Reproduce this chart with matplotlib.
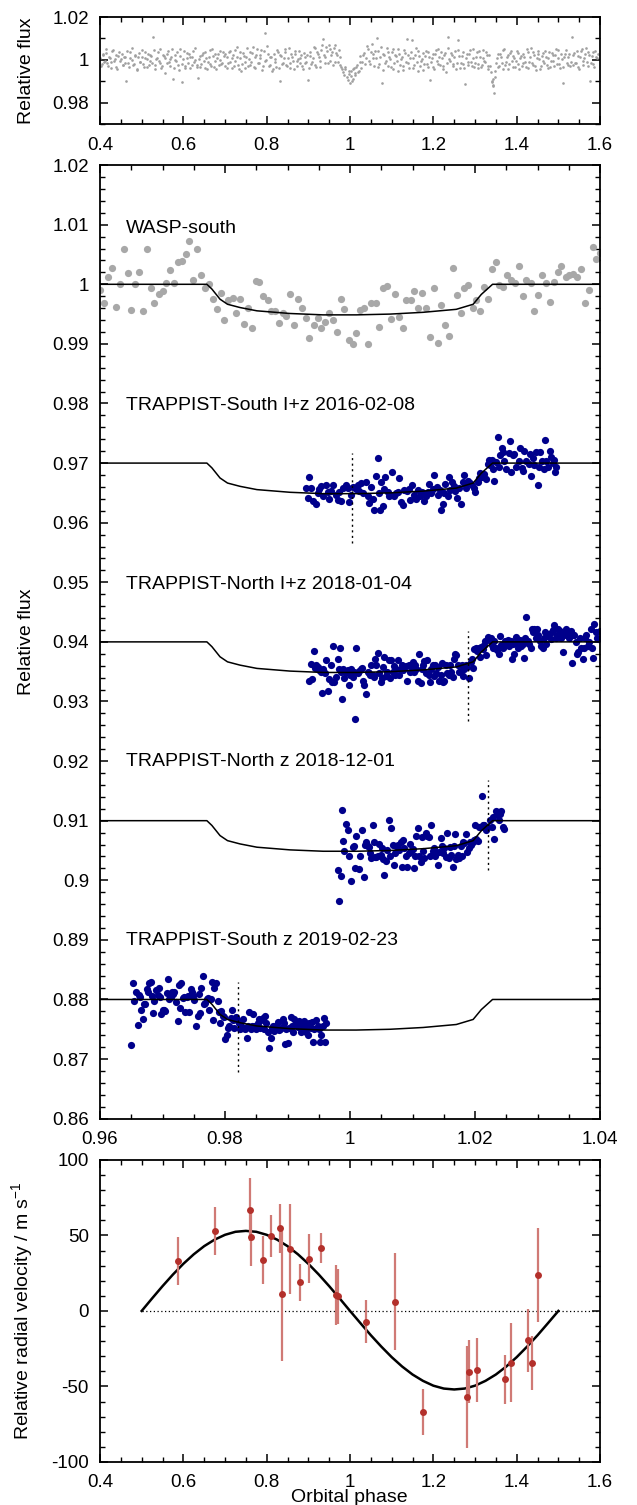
import numpy as np
import matplotlib
matplotlib.use('Agg')
import matplotlib.pyplot as plt
from matplotlib.ticker import MultipleLocator, FuncFormatter

plt.rcParams['font.family'] = ['Liberation Sans', 'DejaVu Sans']
plt.rcParams['axes.unicode_minus'] = False
plt.rcParams['mathtext.fontset'] = 'custom'
plt.rcParams['mathtext.rm'] = 'Liberation Sans'
plt.rcParams['mathtext.it'] = 'Liberation Sans:italic'

# --- top panel: full WASP light curve folded on the orbital period ---
full_phase = [
    0.401, 0.404, 0.408, 0.412, 0.415, 0.419, 0.424, 0.427, 0.431, 0.436, 0.439, 0.443, 0.448, 0.452, 0.456,
    0.460, 0.463, 0.467, 0.471, 0.476, 0.479, 0.483, 0.488, 0.491, 0.495, 0.500, 0.503, 0.507, 0.512, 0.516,
    0.519, 0.523, 0.528, 0.531, 0.535, 0.540, 0.543, 0.547, 0.552, 0.555, 0.560, 0.564, 0.567, 0.571, 0.576,
    0.579, 0.583, 0.588, 0.591, 0.596, 0.599, 0.603, 0.608, 0.612, 0.615, 0.620, 0.624, 0.627, 0.632, 0.636,
    0.639, 0.643, 0.647, 0.652, 0.655, 0.660, 0.663, 0.667, 0.672, 0.676, 0.679, 0.684, 0.687, 0.691, 0.696,
    0.699, 0.704, 0.707, 0.711, 0.716, 0.719, 0.723, 0.728, 0.731, 0.736, 0.739, 0.744, 0.748, 0.751, 0.756,
    0.759, 0.763, 0.768, 0.771, 0.775, 0.780, 0.784, 0.787, 0.791, 0.796, 0.799, 0.803, 0.808, 0.811, 0.816,
    0.819, 0.823, 0.827, 0.832, 0.835, 0.840, 0.844, 0.847, 0.852, 0.856, 0.859, 0.864, 0.867, 0.872, 0.876,
    0.879, 0.883, 0.888, 0.891, 0.895, 0.900, 0.904, 0.907, 0.912, 0.915, 0.919, 0.924, 0.927, 0.931, 0.935,
    0.939, 0.943, 0.947, 0.951, 0.955, 0.959, 0.963, 0.967, 0.971, 0.975, 0.979, 0.983, 0.987, 0.992, 0.997,
    1.000, 1.003, 1.006, 1.009, 1.013, 1.017, 1.021, 1.025, 1.029, 1.034, 1.039, 1.043, 1.048, 1.052, 1.056,
    1.060, 1.064, 1.068, 1.072, 1.076, 1.080, 1.084, 1.088, 1.092, 1.096, 1.100, 1.104, 1.108, 1.112, 1.116,
    1.120, 1.124, 1.128, 1.132, 1.136, 1.140, 1.144, 1.148, 1.152, 1.156, 1.160, 1.164, 1.168, 1.172, 1.176,
    1.180, 1.184, 1.188, 1.192, 1.196, 1.200, 1.204, 1.208, 1.212, 1.216, 1.220, 1.224, 1.228, 1.232, 1.236,
    1.240, 1.244, 1.248, 1.252, 1.256, 1.260, 1.264, 1.268, 1.272, 1.276, 1.280, 1.284, 1.288, 1.292, 1.296,
    1.300, 1.304, 1.308, 1.312, 1.316, 1.320, 1.324, 1.328, 1.332, 1.336, 1.340, 1.343, 1.345, 1.348, 1.352,
    1.356, 1.360, 1.364, 1.368, 1.372, 1.376, 1.380, 1.384, 1.388, 1.392, 1.396, 1.400, 1.404, 1.408, 1.412,
    1.416, 1.420, 1.424, 1.428, 1.432, 1.436, 1.440, 1.444, 1.448, 1.452, 1.456, 1.460, 1.464, 1.468, 1.472,
    1.476, 1.480, 1.484, 1.488, 1.492, 1.496, 1.500, 1.504, 1.508, 1.512, 1.516, 1.520, 1.524, 1.528, 1.532,
    1.536, 1.540, 1.544, 1.548, 1.552, 1.556, 1.560, 1.564, 1.568, 1.572, 1.576, 1.580, 1.584, 1.588, 1.592,
    0.402, 0.406, 0.410, 0.414, 0.417, 0.422, 0.426, 0.429, 0.433, 0.438, 0.441, 0.446, 0.450, 0.454, 0.458,
    0.461, 0.465, 0.469, 0.473, 0.477, 0.481, 0.485, 0.489, 0.493, 0.497, 0.501, 0.505, 0.509, 0.513, 0.517,
    0.521, 0.525, 0.529, 0.533, 0.537, 0.541, 0.545, 0.549, 0.553, 0.557, 0.561, 0.565, 0.569, 0.573, 0.577,
    0.581, 0.585, 0.589, 0.593, 0.597, 0.601, 0.605, 0.609, 0.613, 0.617, 0.621, 0.625, 0.629, 0.633, 0.637,
    0.641, 0.645, 0.649, 0.653, 0.657, 0.661, 0.665, 0.669, 0.673, 0.677, 0.681, 0.685, 0.689, 0.693, 0.697,
    0.701, 0.705, 0.709, 0.713, 0.717, 0.721, 0.725, 0.729, 0.733, 0.737, 0.741, 0.745, 0.749, 0.753, 0.757,
    0.761, 0.765, 0.769, 0.773, 0.777, 0.781, 0.785, 0.789, 0.793, 0.797, 0.801, 0.805, 0.809, 0.813, 0.817,
    0.821, 0.825, 0.829, 0.833, 0.837, 0.841, 0.845, 0.849, 0.853, 0.857, 0.861, 0.865, 0.869, 0.873, 0.877,
    0.881, 0.885, 0.889, 0.893, 0.897, 0.901, 0.905, 0.909, 0.913, 0.917, 0.921, 0.925, 0.929, 0.933, 0.937,
    0.941, 0.945, 0.949, 0.953, 0.957, 0.961, 0.965, 0.969, 0.973, 0.977, 0.981, 0.985, 0.989, 0.994, 0.998,
    1.002, 1.005, 1.008, 1.011, 1.015, 1.019, 1.023, 1.027, 1.031, 1.036, 1.041, 1.045, 1.050, 1.054, 1.058,
    1.062, 1.066, 1.070, 1.074, 1.078, 1.082, 1.086, 1.090, 1.094, 1.098, 1.102, 1.106, 1.110, 1.114, 1.118,
    1.122, 1.126, 1.130, 1.134, 1.138, 1.142, 1.146, 1.150, 1.154, 1.158, 1.162, 1.166, 1.170, 1.174, 1.178,
    1.182, 1.186, 1.190, 1.194, 1.198, 1.202, 1.206, 1.210, 1.214, 1.218, 1.222, 1.226, 1.230, 1.234, 1.238,
    1.242, 1.246, 1.250, 1.254, 1.258, 1.262, 1.266, 1.270, 1.274, 1.278, 1.282, 1.286, 1.290, 1.294, 1.298,
    1.302, 1.306, 1.310, 1.314, 1.318, 1.322, 1.326, 1.330, 1.334, 1.338, 1.341, 1.342, 1.344, 1.347, 1.350,
    1.354, 1.358, 1.362, 1.366, 1.370, 1.374, 1.378, 1.382, 1.386, 1.390, 1.394, 1.398, 1.402, 1.406, 1.410,
    1.414, 1.418, 1.422, 1.426, 1.430, 1.434, 1.438, 1.442, 1.446, 1.450, 1.454, 1.458, 1.462, 1.466, 1.470,
    1.474, 1.478, 1.482, 1.486, 1.490, 1.494, 1.498, 1.502, 1.506, 1.510, 1.514, 1.518, 1.522, 1.526, 1.530,
    1.534, 1.538, 1.542, 1.546, 1.550, 1.554, 1.558, 1.562, 1.566, 1.570, 1.574, 1.578, 1.582, 1.586, 1.590, 1.596]
full_flux = [
    1.0008, 0.9982, 1.0021, 0.9995, 1.0034, 0.9972, 1.0011, 0.9989, 1.0046, 1.0003, 0.9967, 1.0018, 0.9993, 1.0027, 0.9979,
    1.0012, 0.9904, 0.9986, 1.0039, 1.0001, 0.9975, 1.0024, 0.9958, 1.0015, 0.9992, 1.0048, 0.9981, 1.0007, 0.9968, 1.0030,
    0.9996, 1.0019, 1.0109, 0.9978, 1.0005, 1.0036, 0.9987, 0.9962, 1.0022, 1.0009, 0.9984, 1.0041, 0.9971, 1.0014, 0.9910,
    1.0025, 0.9993, 0.9979, 1.0051, 0.9897, 1.0006, 0.9964, 1.0031, 0.9988, 1.0013, 0.9975, 1.0042, 0.9999, 0.9968, 0.9915,
    1.0017, 0.9983, 1.0033, 0.9961, 1.0008, 0.9990, 1.0045, 0.9974, 1.0020, 0.9996, 0.9958, 1.0028, 1.0002, 0.9981, 1.0037,
    0.9970, 1.0012, 0.9986, 1.0044, 0.9965, 1.0023, 0.9995, 1.0062, 0.9979, 1.0008, 0.9950, 1.0031, 0.9989, 1.0016, 0.9974,
    1.0038, 0.9992, 1.0059, 0.9963, 1.0021, 0.9984, 1.0009, 1.0046, 0.9971, 1.0124, 0.9998, 1.0027, 0.9976, 1.0013, 0.9957,
    1.0004, 0.9968, 1.0035, 0.9900, 1.0018, 0.9987, 1.0052, 0.9979, 1.0010, 0.9962, 1.0029, 0.9994, 1.0041, 0.9973, 1.0006,
    0.9985, 1.0022, 0.9958, 1.0015, 0.9992, 0.9905, 1.0039, 0.9980, 1.0011, 1.0055, 0.9969, 1.0028, 0.9997, 1.0047, 1.0098,
    1.0016, 1.0061, 0.9988, 1.0053, 1.0024, 0.9976, 1.0068, 1.0031, 0.9992, 1.0012, 0.9966, 0.9944, 0.9958, 0.9921, 0.9936,
    0.9892, 0.9948, 0.9913, 0.9962, 0.9930, 0.9975, 0.9951, 1.0018, 0.9989, 1.0034, 1.0007, 1.0052, 0.9982, 1.0075, 1.0026,
    1.0041, 1.0102, 0.9968, 1.0013, 0.9894, 1.0029, 0.9985, 1.0058, 0.9971, 1.0004, 1.0037, 0.9960, 1.0021, 0.9993, 1.0049,
    0.9977, 1.0016, 0.9952, 1.0032, 1.0097, 0.9986, 1.0009, 1.0094, 0.9964, 1.0025, 0.9991, 1.0043, 0.9973, 1.0006, 0.9955,
    1.0019, 0.9982, 1.0038, 0.9907, 1.0011, 0.9969, 1.0027, 0.9994, 1.0050, 0.9978, 1.0008, 0.9960, 1.0033, 0.9987, 1.0108,
    0.9996, 1.0024, 0.9973, 1.0042, 0.9988, 1.0095, 0.9965, 1.0017, 0.9981, 0.9890, 1.0030, 0.9992, 1.0046, 0.9970, 1.0010,
    0.9984, 1.0035, 0.9962, 1.0014, 0.9978, 1.0048, 0.9991, 1.0022, 0.9956, 0.9974, 0.9903, 0.9885, 0.9848, 0.9921, 1.0008,
    0.9969, 1.0028, 0.9987, 1.0045, 0.9975, 1.0012, 0.9958, 1.0033, 0.9995, 1.0019, 0.9966, 1.0040, 0.9983, 1.0007, 0.9971,
    1.0026, 0.9990, 1.0052, 0.9962, 1.0015, 0.9985, 1.0037, 0.9973, 1.0009, 1.0029, 0.9957, 1.0018, 0.9994, 1.0044, 0.9979,
    1.0011, 0.9968, 1.0034, 0.9996, 1.0021, 0.9980, 1.0047, 0.9963, 1.0006, 0.9895, 1.0030, 0.9988, 1.0016, 0.9972, 1.0108,
    1.0023, 0.9985, 1.0041, 0.9966, 1.0013, 1.0050, 0.9977, 1.0028, 0.9992, 1.0035, 0.9903, 1.0019, 0.9981, 1.0044, 1.0009,
    0.9974, 1.0029, 0.9991, 1.0052, 0.9985, 1.0016, 0.9963, 1.0040, 0.9997, 1.0023, 0.9958, 1.0035, 1.0006, 0.9976, 1.0013,
    0.9987, 1.0044, 0.9969, 1.0010, 1.0057, 0.9980, 1.0019, 0.9952, 1.0032, 0.9990, 1.0014, 0.9966, 1.0038, 1.0003, 0.9977,
    1.0025, 0.9984, 1.0046, 0.9960, 1.0011, 0.9994, 1.0053, 0.9972, 1.0017, 0.9941, 1.0030, 0.9989, 1.0006, 1.0049, 0.9965,
    0.9998, 1.0036, 0.9955, 1.0020, 0.9983, 1.0044, 0.9970, 1.0008, 1.0027, 0.9961, 1.0015, 0.9992, 1.0058, 0.9978, 1.0004,
    0.9969, 1.0023, 0.9994, 1.0039, 0.9957, 1.0012, 0.9981, 1.0051, 0.9967, 1.0030, 1.0007, 0.9975, 1.0044, 0.9988, 1.0018,
    1.0026, 0.9961, 1.0035, 0.9990, 1.0009, 0.9972, 1.0047, 1.0015, 0.9956, 1.0038, 0.9983, 1.0020, 0.9962, 1.0055, 1.0003,
    0.9979, 1.0032, 0.9968, 1.0014, 1.0050, 0.9987, 1.0024, 0.9955, 1.0041, 0.9993, 1.0066, 0.9974, 1.0012, 0.9949, 1.0028,
    0.9990, 1.0047, 0.9963, 1.0021, 0.9982, 1.0008, 1.0036, 0.9970, 1.0054, 0.9988, 1.0016, 0.9957, 1.0030, 0.9995, 1.0043,
    1.0009, 0.9973, 1.0034, 0.9986, 1.0025, 0.9964, 1.0017, 0.9991, 1.0060, 0.9979, 1.0038, 1.0012, 0.9968, 1.0072, 1.0021,
    0.9984, 1.0042, 1.0070, 0.9995, 1.0035, 1.0058, 0.9990, 1.0022, 1.0047, 0.9975, 0.9958, 0.9932, 0.9967, 0.9905, 0.9948,
    0.9925, 0.9903, 0.9957, 0.9938, 0.9969, 0.9942, 0.9990, 0.9965, 1.0021, 0.9980, 1.0063, 0.9994, 1.0039, 1.0011, 0.9972,
    1.0008, 1.0044, 0.9982, 1.0061, 0.9955, 1.0024, 0.9993, 1.0035, 1.0013, 0.9968, 1.0050, 0.9986, 1.0019, 0.9947, 1.0030,
    1.0005, 0.9974, 1.0046, 0.9989, 1.0022, 0.9961, 1.0039, 1.0010, 0.9978, 1.0055, 0.9950, 1.0017, 0.9995, 1.0034, 0.9982,
    1.0040, 0.9967, 1.0013, 0.9992, 1.0029, 0.9956, 1.0048, 0.9983, 1.0015, 1.0036, 0.9971, 1.0022, 0.9945, 1.0057, 1.0004,
    1.0031, 0.9980, 1.0012, 0.9958, 1.0046, 1.0019, 0.9986, 1.0035, 0.9963, 1.0009, 0.9975, 1.0027, 0.9992, 1.0053, 0.9969,
    1.0016, 0.9981, 1.0043, 0.9966, 1.0008, 0.9993, 1.0037, 0.9970, 1.0021, 0.9943, 0.9896, 0.9912, 0.9878, 0.9950, 0.9985,
    1.0030, 0.9974, 1.0015, 0.9960, 1.0052, 0.9991, 1.0024, 0.9982, 1.0041, 0.9967, 1.0009, 0.9995, 1.0033, 0.9958, 1.0020,
    0.9984, 1.0013, 0.9969, 1.0036, 0.9992, 1.0058, 0.9977, 1.0025, 0.9955, 1.0040, 1.0003, 0.9972, 1.0031, 0.9988, 1.0014,
    0.9961, 1.0039, 0.9993, 1.0022, 0.9974, 1.0050, 1.0008, 0.9983, 1.0030, 0.9967, 1.0012, 1.0045, 0.9979, 1.0026, 0.9991,
    0.9976, 1.0033, 0.9987, 1.0018, 0.9960, 1.0042, 0.9994, 1.0011, 1.0057, 0.9970, 1.0024, 0.9985, 1.0036, 0.9968, 1.0015, 1.0030]

# --- middle panel: transit light curves ---
wasp_phase = [
    0.9600, 0.9606, 0.9613, 0.9619, 0.9626, 0.9632, 0.9638, 0.9644, 0.9650, 0.9656,
    0.9663, 0.9669, 0.9675, 0.9681, 0.9687, 0.9694, 0.9700, 0.9706, 0.9712, 0.9718,
    0.9724, 0.9731, 0.9737, 0.9743, 0.9749, 0.9755, 0.9761, 0.9768, 0.9774, 0.9781,
    0.9787, 0.9793, 0.9799, 0.9805, 0.9812, 0.9817, 0.9824, 0.9830, 0.9836, 0.9843,
    0.9849, 0.9855, 0.9861, 0.9868, 0.9873, 0.9880, 0.9886, 0.9892, 0.9898, 0.9904,
    0.9911, 0.9917, 0.9923, 0.9929, 0.9935, 0.9942, 0.9948, 0.9954, 0.9960, 0.9967,
    0.9973, 0.9979, 0.9985, 0.9991, 0.9998, 1.0004, 1.0010, 1.0016, 1.0022, 1.0029,
    1.0034, 1.0041, 1.0047, 1.0053, 1.0059, 1.0066, 1.0072, 1.0078, 1.0084, 1.0090,
    1.0097, 1.0103, 1.0109, 1.0115, 1.0121, 1.0128, 1.0134, 1.0140, 1.0146, 1.0152,
    1.0159, 1.0164, 1.0171, 1.0177, 1.0183, 1.0189, 1.0196, 1.0202, 1.0208, 1.0215,
    1.0220, 1.0227, 1.0233, 1.0239, 1.0245, 1.0251, 1.0258, 1.0264, 1.0270, 1.0276,
    1.0282, 1.0289, 1.0295, 1.0301, 1.0307, 1.0314, 1.0320, 1.0326, 1.0332, 1.0338,
    1.0345, 1.0351, 1.0357, 1.0363, 1.0369, 1.0376, 1.0382, 1.0388, 1.0394, 1.0400]
wasp_flux = [
    0.9990, 0.9968, 1.0013, 1.0027, 0.9962, 1.0000, 1.0060, 1.0019, 0.9957, 1.0001,
    1.0021, 0.9956, 1.0059, 0.9994, 0.9968, 0.9983, 0.9989, 1.0003, 1.0024, 1.0003,
    1.0038, 1.0039, 1.0050, 1.0072, 1.0007, 1.0059, 1.0016, 0.9994, 1.0001, 0.9975,
    0.9959, 0.9985, 0.9940, 0.9974, 0.9977, 0.9951, 0.9975, 0.9933, 0.9961, 0.9927,
    1.0005, 1.0004, 0.9980, 0.9973, 0.9955, 0.9955, 0.9935, 0.9952, 0.9947, 0.9983,
    0.9932, 0.9976, 0.9961, 0.9944, 0.9910, 0.9931, 0.9944, 0.9927, 0.9936, 0.9951,
    0.9940, 0.9920, 0.9976, 0.9959, 0.9907, 0.9899, 0.9918, 0.9957, 0.9961, 0.9899,
    0.9968, 0.9968, 0.9928, 0.9994, 0.9997, 0.9942, 0.9983, 0.9945, 0.9927, 0.9973,
    0.9974, 0.9989, 0.9961, 0.9985, 0.9960, 0.9911, 0.9994, 0.9902, 0.9966, 0.9932,
    0.9914, 1.0027, 0.9982, 0.9951, 0.9993, 0.9998, 0.9960, 0.9974, 0.9956, 0.9996,
    0.9976, 1.0025, 1.0037, 0.9998, 0.9996, 1.0015, 1.0007, 1.0002, 1.0030, 0.9980,
    1.0007, 1.0003, 0.9955, 0.9982, 1.0016, 1.0003, 0.9971, 1.0004, 1.0021, 1.0030,
    1.0013, 1.0015, 1.0018, 1.0012, 1.0025, 0.9968, 0.9990, 1.0063, 1.0042, 1.0053]

ts1_phase = [
    0.9930, 0.9935, 0.9933, 0.9938, 0.9941, 0.9945, 0.9948, 0.9951, 0.9954, 0.9957,
    0.9961, 0.9964, 0.9967, 0.9970, 0.9973, 0.9977, 0.9980, 0.9983, 0.9986, 0.9989,
    0.9993, 0.9996, 0.9999, 1.0002, 1.0005, 1.0009, 1.0012, 1.0015, 1.0018, 1.0021,
    1.0025, 1.0028, 1.0031, 1.0034, 1.0037, 1.0039, 1.0042, 1.0044, 1.0046, 1.0048,
    1.0050, 1.0052, 1.0054, 1.0056, 1.0060, 1.0063, 1.0066, 1.0067, 1.0070, 1.0074,
    1.0077, 1.0079, 1.0081, 1.0084, 1.0087, 1.0091, 1.0094, 1.0096, 1.0099, 1.0102,
    1.0105, 1.0109, 1.0112, 1.0115, 1.0118, 1.0121, 1.0125, 1.0127, 1.0129, 1.0132,
    1.0135, 1.0139, 1.0141, 1.0144, 1.0146, 1.0148, 1.0150, 1.0152, 1.0156, 1.0158,
    1.0160, 1.0163, 1.0166, 1.0168, 1.0171, 1.0174, 1.0177, 1.0180, 1.0182, 1.0184,
    1.0186, 1.0189, 1.0192, 1.0195, 1.0198, 1.0200, 1.0204, 1.0206, 1.0208, 1.0211,
    1.0214, 1.0217, 1.0220, 1.0222, 1.0224, 1.0227, 1.0229, 1.0231, 1.0233, 1.0236,
    1.0238, 1.0240, 1.0243, 1.0245, 1.0247, 1.0250, 1.0254, 1.0256, 1.0258, 1.0260,
    1.0263, 1.0266, 1.0270, 1.0272, 1.0275, 1.0277, 1.0279, 1.0282, 1.0286, 1.0288,
    1.0290, 1.0292, 1.0295, 1.0297, 1.0300, 1.0302, 1.0304, 1.0307, 1.0310, 1.0312,
    1.0314, 1.0317, 1.0320, 1.0322, 1.0324, 1.0326, 1.0328, 1.0330]
ts1_flux = [
    0.9659, 0.9676, 0.9641, 0.9658, 0.9636, 0.9631, 0.9650, 0.9656, 0.9661, 0.9644,
    0.9663, 0.9651, 0.9640, 0.9654, 0.9663, 0.9647, 0.9638, 0.9651, 0.9637, 0.9659,
    0.9663, 0.9658, 0.9635, 0.9647, 0.9660, 0.9657, 0.9664, 0.9654, 0.9666, 0.9650,
    0.9668, 0.9645, 0.9633, 0.9660, 0.9639, 0.9621, 0.9679, 0.9708, 0.9650, 0.9621,
    0.9668, 0.9628, 0.9656, 0.9676, 0.9652, 0.9644, 0.9647, 0.9685, 0.9644, 0.9650,
    0.9652, 0.9675, 0.9634, 0.9630, 0.9655, 0.9654, 0.9657, 0.9638, 0.9663, 0.9647,
    0.9640, 0.9655, 0.9644, 0.9651, 0.9637, 0.9645, 0.9651, 0.9665, 0.9650, 0.9656,
    0.9680, 0.9660, 0.9647, 0.9655, 0.9621, 0.9631, 0.9650, 0.9665, 0.9644, 0.9677,
    0.9655, 0.9669, 0.9661, 0.9654, 0.9642, 0.9658, 0.9632, 0.9669, 0.9680, 0.9665,
    0.9658, 0.9670, 0.9666, 0.9664, 0.9659, 0.9652, 0.9669, 0.9675, 0.9683, 0.9676,
    0.9682, 0.9673, 0.9698, 0.9705, 0.9696, 0.9706, 0.9690, 0.9670, 0.9701, 0.9743,
    0.9693, 0.9714, 0.9725, 0.9718, 0.9704, 0.9690, 0.9717, 0.9737, 0.9685, 0.9714,
    0.9715, 0.9693, 0.9704, 0.9725, 0.9692, 0.9686, 0.9721, 0.9704, 0.9698, 0.9715,
    0.9679, 0.9708, 0.9697, 0.9718, 0.9663, 0.9694, 0.9718, 0.9703, 0.9690, 0.9739,
    0.9704, 0.9694, 0.9720, 0.9711, 0.9700, 0.9706, 0.9685, 0.9693]

tn1_phase = [
    0.9935, 0.9937, 0.9939, 0.9942, 0.9944, 0.9946, 0.9949, 0.9951, 0.9953, 0.9955,
    0.9957, 0.9960, 0.9962, 0.9965, 0.9967, 0.9969, 0.9971, 0.9973, 0.9975, 0.9977,
    0.9980, 0.9982, 0.9984, 0.9985, 0.9987, 0.9989, 0.9991, 0.9993, 0.9996, 0.9998,
    1.0000, 1.0002, 1.0004, 1.0006, 1.0008, 1.0010, 1.0013, 1.0015, 1.0017, 1.0019,
    1.0021, 1.0023, 1.0025, 1.0028, 1.0030, 1.0032, 1.0034, 1.0036, 1.0038, 1.0040,
    1.0042, 1.0045, 1.0047, 1.0049, 1.0051, 1.0053, 1.0055, 1.0057, 1.0059, 1.0062,
    1.0064, 1.0066, 1.0068, 1.0070, 1.0072, 1.0074, 1.0077, 1.0079, 1.0081, 1.0083,
    1.0085, 1.0087, 1.0089, 1.0091, 1.0094, 1.0096, 1.0098, 1.0100, 1.0102, 1.0104,
    1.0106, 1.0108, 1.0111, 1.0113, 1.0115, 1.0117, 1.0119, 1.0121, 1.0123, 1.0126,
    1.0128, 1.0130, 1.0132, 1.0134, 1.0136, 1.0138, 1.0141, 1.0143, 1.0145, 1.0147,
    1.0149, 1.0151, 1.0153, 1.0155, 1.0158, 1.0160, 1.0162, 1.0164, 1.0166, 1.0168,
    1.0170, 1.0172, 1.0175, 1.0177, 1.0179, 1.0181, 1.0183, 1.0185, 1.0187, 1.0190,
    1.0193, 1.0195, 1.0197, 1.0199, 1.0201, 1.0203, 1.0206, 1.0208, 1.0210, 1.0212,
    1.0214, 1.0216, 1.0218, 1.0220, 1.0223, 1.0225, 1.0227, 1.0229, 1.0231, 1.0233,
    1.0235, 1.0238, 1.0240, 1.0242, 1.0244, 1.0246, 1.0248, 1.0250, 1.0252, 1.0255,
    1.0257, 1.0259, 1.0261, 1.0263, 1.0265, 1.0267, 1.0269, 1.0272, 1.0274, 1.0276,
    1.0278, 1.0280, 1.0282, 1.0284, 1.0287, 1.0289, 1.0291, 1.0293, 1.0295, 1.0297,
    1.0299, 1.0301, 1.0304, 1.0306, 1.0308, 1.0310, 1.0312, 1.0314, 1.0316, 1.0318,
    1.0321, 1.0323, 1.0325, 1.0327, 1.0329, 1.0331, 1.0333, 1.0336, 1.0338, 1.0340,
    1.0342, 1.0344, 1.0346, 1.0348, 1.0350, 1.0353, 1.0355, 1.0357, 1.0359, 1.0361,
    1.0363, 1.0365, 1.0368, 1.0370, 1.0372, 1.0374, 1.0376, 1.0378, 1.0380, 1.0382,
    1.0385, 1.0387, 1.0389, 1.0391, 1.0393, 1.0395, 1.0397, 1.0400, 1.0402]
tn1_flux = [
    0.9334, 0.9363, 0.9337, 0.9385, 0.9356, 0.9362, 0.9358, 0.9353, 0.9350, 0.9314,
    0.9355, 0.9347, 0.9369, 0.9318, 0.9337, 0.9362, 0.9333, 0.9393, 0.9332, 0.9341,
    0.9372, 0.9355, 0.9390, 0.9349, 0.9304, 0.9355, 0.9339, 0.9350, 0.9352, 0.9327,
    0.9344, 0.9355, 0.9341, 0.9350, 0.9271, 0.9390, 0.9347, 0.9351, 0.9355, 0.9356,
    0.9334, 0.9327, 0.9313, 0.9350, 0.9347, 0.9344, 0.9362, 0.9344, 0.9341, 0.9372,
    0.9362, 0.9381, 0.9347, 0.9332, 0.9339, 0.9358, 0.9375, 0.9342, 0.9350, 0.9369,
    0.9340, 0.9369, 0.9350, 0.9360, 0.9344, 0.9355, 0.9369, 0.9345, 0.9355, 0.9361,
    0.9352, 0.9358, 0.9360, 0.9334, 0.9362, 0.9350, 0.9360, 0.9366, 0.9350, 0.9362,
    0.9355, 0.9335, 0.9380, 0.9331, 0.9355, 0.9361, 0.9368, 0.9347, 0.9369, 0.9344,
    0.9333, 0.9355, 0.9361, 0.9343, 0.9362, 0.9347, 0.9358, 0.9334, 0.9345, 0.9365,
    0.9332, 0.9335, 0.9362, 0.9347, 0.9344, 0.9362, 0.9350, 0.9341, 0.9372, 0.9380,
    0.9378, 0.9362, 0.9350, 0.9351, 0.9362, 0.9343, 0.9355, 0.9361, 0.9358, 0.9340,
    0.9366, 0.9372, 0.9356, 0.9388, 0.9390, 0.9384, 0.9390, 0.9375, 0.9392, 0.9388,
    0.9394, 0.9401, 0.9378, 0.9408, 0.9403, 0.9406, 0.9394, 0.9390, 0.9401, 0.9389,
    0.9386, 0.9380, 0.9410, 0.9394, 0.9390, 0.9393, 0.9401, 0.9397, 0.9403, 0.9393,
    0.9401, 0.9372, 0.9397, 0.9380, 0.9408, 0.9400, 0.9390, 0.9403, 0.9393, 0.9397,
    0.9373, 0.9406, 0.9441, 0.9401, 0.9396, 0.9389, 0.9421, 0.9416, 0.9422, 0.9406,
    0.9422, 0.9412, 0.9401, 0.9393, 0.9389, 0.9406, 0.9416, 0.9396, 0.9410, 0.9414,
    0.9404, 0.9416, 0.9420, 0.9428, 0.9406, 0.9412, 0.9421, 0.9418, 0.9406, 0.9383,
    0.9411, 0.9414, 0.9422, 0.9411, 0.9407, 0.9418, 0.9365, 0.9412, 0.9411, 0.9400,
    0.9379, 0.9383, 0.9406, 0.9390, 0.9372, 0.9389, 0.9406, 0.9412, 0.9393, 0.9400,
    0.9421, 0.9390, 0.9373, 0.9430, 0.9416, 0.9407, 0.9404, 0.9418, 0.9406]

tn2_phase = [
    0.9980, 0.9983, 0.9985, 0.9987, 0.9989, 0.9991, 0.9993, 0.9996, 0.9998, 1.0002,
    1.0004, 1.0006, 1.0008, 1.0010, 1.0014, 1.0016, 1.0019, 1.0022, 1.0024, 1.0026,
    1.0029, 1.0030, 1.0032, 1.0034, 1.0036, 1.0038, 1.0040, 1.0042, 1.0045, 1.0047,
    1.0049, 1.0051, 1.0053, 1.0055, 1.0057, 1.0059, 1.0062, 1.0064, 1.0066, 1.0068,
    1.0070, 1.0072, 1.0074, 1.0077, 1.0079, 1.0081, 1.0083, 1.0085, 1.0087, 1.0089,
    1.0091, 1.0094, 1.0096, 1.0098, 1.0100, 1.0102, 1.0104, 1.0106, 1.0108, 1.0111,
    1.0113, 1.0115, 1.0117, 1.0119, 1.0121, 1.0123, 1.0126, 1.0128, 1.0130, 1.0132,
    1.0134, 1.0136, 1.0138, 1.0141, 1.0143, 1.0145, 1.0147, 1.0149, 1.0151, 1.0153,
    1.0155, 1.0158, 1.0160, 1.0162, 1.0164, 1.0166, 1.0168, 1.0170, 1.0172, 1.0175,
    1.0177, 1.0179, 1.0181, 1.0183, 1.0185, 1.0187, 1.0190, 1.0192, 1.0194, 1.0196,
    1.0198, 1.0200, 1.0202, 1.0204, 1.0207, 1.0209, 1.0211, 1.0213, 1.0215, 1.0217,
    1.0220, 1.0224, 1.0227, 1.0229, 1.0231, 1.0233, 1.0235, 1.0238, 1.0240, 1.0242,
    1.0244, 1.0246]
tn2_flux = [
    0.9017, 0.8965, 0.9008, 0.9118, 0.9066, 0.9049, 0.9095, 0.9084, 0.9041, 0.8999,
    0.9056, 0.9057, 0.9020, 0.9074, 0.9019, 0.9041, 0.9084, 0.9006, 0.9060, 0.9065,
    0.9058, 0.9056, 0.9046, 0.9037, 0.9093, 0.9064, 0.9039, 0.9039, 0.9040, 0.9061,
    0.9043, 0.9054, 0.9035, 0.9009, 0.9032, 0.9051, 0.9101, 0.9041, 0.9088, 0.9060,
    0.9025, 0.9046, 0.9058, 0.9060, 0.9051, 0.9065, 0.9023, 0.9068, 0.9054, 0.9040,
    0.9022, 0.9046, 0.9061, 0.9049, 0.9052, 0.9020, 0.9040, 0.9074, 0.9088, 0.9040,
    0.9031, 0.9073, 0.9049, 0.9037, 0.9079, 0.9075, 0.9073, 0.9040, 0.9092, 0.9049,
    0.9054, 0.9040, 0.9046, 0.9025, 0.9047, 0.9071, 0.9058, 0.9045, 0.9054, 0.9039,
    0.9079, 0.9037, 0.9056, 0.9043, 0.9023, 0.9058, 0.9077, 0.9035, 0.9043, 0.9037,
    0.9057, 0.9040, 0.9064, 0.9063, 0.9077, 0.9047, 0.9054, 0.9064, 0.9060, 0.9065,
    0.9067, 0.9092, 0.9069, 0.9066, 0.9089, 0.9090, 0.9141, 0.9092, 0.9093, 0.9085,
    0.9090, 0.9101, 0.9089, 0.9107, 0.9069, 0.9116, 0.9112, 0.9101, 0.9112, 0.9116,
    0.9090, 0.9086]

ts2_phase = [
    0.9650, 0.9652, 0.9655, 0.9657, 0.9660, 0.9662, 0.9664, 0.9666, 0.9668, 0.9670,
    0.9672, 0.9675, 0.9677, 0.9679, 0.9681, 0.9683, 0.9685, 0.9687, 0.9690, 0.9692,
    0.9694, 0.9696, 0.9698, 0.9700, 0.9702, 0.9704, 0.9707, 0.9709, 0.9711, 0.9713,
    0.9715, 0.9717, 0.9719, 0.9722, 0.9724, 0.9726, 0.9728, 0.9730, 0.9732, 0.9734,
    0.9736, 0.9739, 0.9741, 0.9743, 0.9745, 0.9747, 0.9749, 0.9751, 0.9753, 0.9756,
    0.9758, 0.9760, 0.9762, 0.9764, 0.9766, 0.9768, 0.9771, 0.9773, 0.9775, 0.9777,
    0.9779, 0.9781, 0.9783, 0.9785, 0.9788, 0.9790, 0.9792, 0.9794, 0.9796, 0.9798,
    0.9800, 0.9803, 0.9805, 0.9807, 0.9809, 0.9811, 0.9813, 0.9815, 0.9817, 0.9820,
    0.9822, 0.9824, 0.9826, 0.9828, 0.9830, 0.9832, 0.9835, 0.9837, 0.9839, 0.9841,
    0.9843, 0.9845, 0.9847, 0.9849, 0.9852, 0.9854, 0.9856, 0.9858, 0.9860, 0.9862,
    0.9864, 0.9866, 0.9869, 0.9871, 0.9873, 0.9875, 0.9877, 0.9879, 0.9881, 0.9884,
    0.9886, 0.9888, 0.9890, 0.9892, 0.9894, 0.9896, 0.9898, 0.9901, 0.9903, 0.9905,
    0.9907, 0.9909, 0.9911, 0.9913, 0.9916, 0.9918, 0.9920, 0.9922, 0.9924, 0.9926,
    0.9928, 0.9930, 0.9933, 0.9935, 0.9937, 0.9939, 0.9941, 0.9943, 0.9945, 0.9948,
    0.9950, 0.9952, 0.9954, 0.9956, 0.9958, 0.9960, 0.9962]
ts2_flux = [
    0.8724, 0.8828, 0.8797, 0.8812, 0.8758, 0.8808, 0.8804, 0.8783, 0.8768, 0.8792,
    0.8793, 0.8817, 0.8812, 0.8827, 0.8830, 0.8806, 0.8778, 0.8797, 0.8816, 0.8807,
    0.8820, 0.8804, 0.8775, 0.8783, 0.8782, 0.8780, 0.8811, 0.8834, 0.8800, 0.8804,
    0.8812, 0.8810, 0.8812, 0.8796, 0.8764, 0.8825, 0.8786, 0.8827, 0.8803, 0.8804,
    0.8779, 0.8804, 0.8806, 0.8779, 0.8817, 0.8812, 0.8806, 0.8799, 0.8755, 0.8773,
    0.8810, 0.8778, 0.8820, 0.8840, 0.8792, 0.8794, 0.8801, 0.8803, 0.8783, 0.8800,
    0.8829, 0.8765, 0.8820, 0.8827, 0.8797, 0.8779, 0.8761, 0.8780, 0.8773, 0.8771,
    0.8734, 0.8741, 0.8752, 0.8755, 0.8769, 0.8782, 0.8766, 0.8752, 0.8771, 0.8764,
    0.8761, 0.8750, 0.8755, 0.8768, 0.8752, 0.8750, 0.8736, 0.8756, 0.8779, 0.8750,
    0.8756, 0.8775, 0.8755, 0.8750, 0.8761, 0.8768, 0.8752, 0.8765, 0.8769, 0.8750,
    0.8772, 0.8761, 0.8745, 0.8719, 0.8736, 0.8752, 0.8756, 0.8747, 0.8755, 0.8762,
    0.8749, 0.8750, 0.8752, 0.8768, 0.8761, 0.8726, 0.8751, 0.8727, 0.8752, 0.8771,
    0.8756, 0.8745, 0.8768, 0.8761, 0.8754, 0.8764, 0.8761, 0.8745, 0.8752, 0.8764,
    0.8756, 0.8745, 0.8741, 0.8761, 0.8752, 0.8762, 0.8728, 0.8750, 0.8765, 0.8756,
    0.8750, 0.8728, 0.8740, 0.8756, 0.8769, 0.8728, 0.8761]

# transit model (relative to each baseline)
model_phase = [0.9600, 0.9771, 0.9779, 0.9792, 0.9804, 0.9824, 0.9851, 0.9904, 0.9957,
               1.0010, 1.0064, 1.0117, 1.0170, 1.0197, 1.0210, 1.0228, 1.0400]
model_flux = [1.0, 1.0, 0.9992, 0.9975, 0.99665, 0.9961, 0.99555, 0.9951, 0.99487,
              0.99487, 0.9950, 0.9953, 0.9958, 0.99665, 0.9983, 1.0, 1.0]
baselines = [1.00, 0.97, 0.94, 0.91, 0.88]
labels = ['WASP-south', 'TRAPPIST-South I+z 2016-02-08', 'TRAPPIST-North I+z 2018-01-04',
          'TRAPPIST-North z 2018-12-01', 'TRAPPIST-South z 2019-02-23']
label_y = [1.0094, 0.9796, 0.9497, 0.9199, 0.8899]

# dotted vertical markers on the TRAPPIST curves
mark_phase = [1.0003, 1.0188, 1.0221, 0.9821]
mark_lo = [0.9566, 0.9267, 0.9018, 0.8679]
mark_hi = [0.9717, 0.9419, 0.9168, 0.8830]

# --- bottom panel: radial velocities ---
rv_phase = [0.586, 0.676, 0.760, 0.762, 0.790, 0.811, 0.832, 0.836, 0.856, 0.879, 0.901, 0.930, 0.966,
            0.970, 1.038, 1.107, 1.175, 1.281, 1.286, 1.305, 1.371, 1.386, 1.427, 1.436, 1.450]
rv = [32.9, 52.8, 67.0, 48.8, 33.6, 49.5, 54.6, 11.0, 41.1, 18.9, 34.7, 41.7, 10.7,
      9.6, -7.0, 6.1, -67.0, -57.0, -40.2, -39.1, -45.3, -34.2, -19.4, -34.4, 23.6]
rv_err = [16, 16, 21, 19, 16, 14, 16, 44, 30, 12, 16, 10, 20,
          18, 14, 32, 15, 34, 21, 21, 16, 26, 21, 18, 31]

rv_model_phase = [0.500, 0.525, 0.550, 0.575, 0.600, 0.625, 0.650, 0.675, 0.700, 0.725, 0.750,
                  0.775, 0.800, 0.825, 0.850, 0.875, 0.900, 0.925, 0.950, 0.975, 1.000,
                  1.025, 1.050, 1.075, 1.100, 1.125, 1.150, 1.175, 1.200, 1.225, 1.250,
                  1.275, 1.300, 1.325, 1.350, 1.375, 1.400, 1.425, 1.450, 1.475, 1.500]
rv_model = [0.0, 8.3, 16.4, 24.1, 31.2, 37.5, 42.9, 47.2, 50.4, 52.4, 53.0,
            52.4, 50.4, 47.2, 42.9, 37.5, 31.2, 24.1, 16.4, 8.3, 0.0,
            -8.1, -16.1, -23.6, -30.6, -36.8, -42.1, -46.3, -49.5, -51.4, -52.0,
            -51.4, -49.5, -46.3, -42.1, -36.8, -30.6, -23.6, -16.1, -8.1, 0.0]


def fmt(v, pos):
    return f'{round(v, 4):g}'


def style(ax):
    ax.tick_params(which='both', direction='in', top=True, right=True, labelsize=13.5)
    ax.tick_params(axis='x', pad=9)
    ax.tick_params(axis='y', pad=8)
    ax.tick_params(which='major', length=6, width=1.1)
    ax.tick_params(which='minor', length=3.5, width=1.0)
    ax.xaxis.set_major_formatter(FuncFormatter(fmt))
    ax.yaxis.set_major_formatter(FuncFormatter(fmt))
    for s in ax.spines.values():
        s.set_linewidth(1.3)


fig = plt.figure(figsize=(6.37, 15.05), dpi=100)

# top
ax1 = fig.add_axes([0.157, 0.9173, 0.785, 0.0714])
ax1.plot(full_phase, full_flux, 'o', ms=1.9, mew=0, color='#a0a0a0')
ax1.set_xlim(0.4, 1.6)
ax1.set_ylim(0.97, 1.02)
ax1.xaxis.set_major_locator(MultipleLocator(0.2))
ax1.xaxis.set_minor_locator(MultipleLocator(0.05))
ax1.yaxis.set_major_locator(MultipleLocator(0.02))
ax1.yaxis.set_minor_locator(MultipleLocator(0.01))
style(ax1)
ax1.set_ylabel('Relative flux', fontsize=14)
ax1.yaxis.set_label_coords(-0.13, 0.5)

# middle
ax2 = fig.add_axes([0.157, 0.2567, 0.785, 0.6336])
datasets = [(wasp_phase, wasp_flux, '#a8a8a8'), (ts1_phase, ts1_flux, '#00008b'),
            (tn1_phase, tn1_flux, '#00008b'), (tn2_phase, tn2_flux, '#00008b'),
            (ts2_phase, ts2_flux, '#00008b')]
for (ph, fl, col), base, lab, ly in zip(datasets, baselines, labels, label_y):
    ax2.plot(ph, fl, 'o', ms=5.2, mew=0, color=col, zorder=2)
    ax2.plot(model_phase, np.array(model_flux) - 1.0 + base, color='k', lw=1.1, zorder=3)
    ax2.text(0.9641, ly, lab, fontsize=14, va='center', ha='left')
for xm, lo, hi in zip(mark_phase, mark_lo, mark_hi):
    ax2.plot([xm, xm], [lo, hi], color='k', lw=1.0, ls=(0, (1.5, 2.5)), zorder=3)
ax2.set_xlim(0.96, 1.04)
ax2.set_ylim(0.86, 1.02)
ax2.xaxis.set_major_locator(MultipleLocator(0.02))
ax2.xaxis.set_minor_locator(MultipleLocator(0.005))
ax2.yaxis.set_major_locator(MultipleLocator(0.01))
ax2.yaxis.set_minor_locator(MultipleLocator(0.002))
style(ax2)
ax2.set_ylabel('Relative flux', fontsize=14)
ax2.yaxis.set_label_coords(-0.13, 0.5)

# bottom
ax3 = fig.add_axes([0.157, 0.0286, 0.785, 0.2007])
ax3.plot([0.5, 1.6], [0, 0], color='k', lw=0.9, ls=(0, (1, 2)))
ax3.plot(rv_model_phase, rv_model, color='k', lw=1.8)
ax3.errorbar(rv_phase, rv, yerr=rv_err, fmt='o', ms=5, mew=0, color='#b3302b',
             ecolor='#d07a75', elinewidth=1.6, capsize=0, zorder=4)
ax3.set_xlim(0.4, 1.6)
ax3.set_ylim(-100, 100)
ax3.xaxis.set_major_locator(MultipleLocator(0.2))
ax3.xaxis.set_minor_locator(MultipleLocator(0.05))
ax3.yaxis.set_major_locator(MultipleLocator(50))
ax3.yaxis.set_minor_locator(MultipleLocator(10))
style(ax3)
ax3.set_ylabel('Relative radial velocity / m s$^{-1}$', fontsize=14)
ax3.yaxis.set_label_coords(-0.13, 0.5)
fig.text(0.549, 1 - 1498 / 1505, 'Orbital phase', ha='center', va='center', fontsize=14)

fig.savefig('out.png', dpi=100)
